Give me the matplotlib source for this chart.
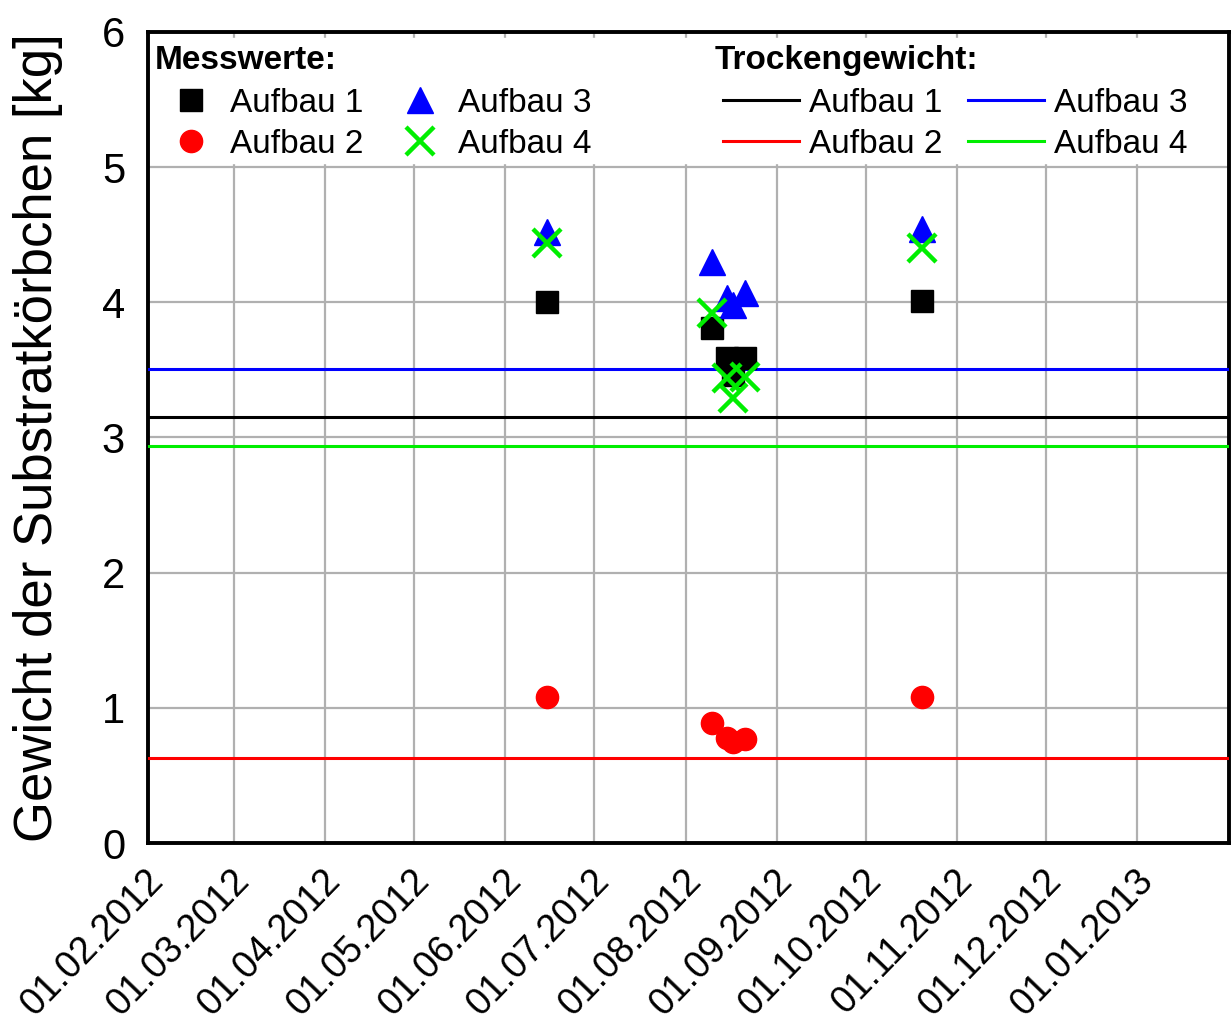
import numpy as np
import matplotlib.pyplot as plt
import matplotlib.dates as mdates
import matplotlib.transforms as mtransforms
from datetime import datetime

plt.rcParams['font.family'] = ['Liberation Sans', 'DejaVu Sans']

# Messtermine
dates = [datetime(2012, 6, 15), datetime(2012, 8, 10), datetime(2012, 8, 15),
         datetime(2012, 8, 17), datetime(2012, 8, 21), datetime(2012, 10, 20)]
aufbau1 = [4.00, 3.81, 3.59, 3.46, 3.59, 4.01]
aufbau2 = [1.08, 0.89, 0.78, 0.75, 0.77, 1.08]
aufbau3 = [4.52, 4.30, 4.03, 3.98, 4.07, 4.54]
aufbau4 = [4.44, 3.92, 3.44, 3.29, 3.45, 4.40]

# Trockengewicht
dry_weight = [3.15, 0.63, 3.505, 2.94]
labels = ['Aufbau 1', 'Aufbau 2', 'Aufbau 3', 'Aufbau 4']
colors = ['black', '#ff0000', '#0000ff', '#00ee00']

tick_dates = [datetime(2012, m, 1) for m in range(2, 13)] + [datetime(2013, 1, 1)]

fig = plt.figure(figsize=(12.31, 10.21), dpi=100)
ax = fig.add_axes([0.1202, 0.1743, 0.8782, 0.7944])

ax.grid(True, color='#b0b0b0', linewidth=1.6)
ax.set_axisbelow(True)

line_handles = []
for val, c, lab in zip(dry_weight, colors, labels):
    h, = ax.plot([datetime(2012, 2, 1), datetime(2013, 2, 1)], [val, val],
                 color=c, linewidth=2.2, label=lab, zorder=3)
    line_handles.append(h)

m1, = ax.plot(dates, aufbau1, 's', color='black', markersize=15.5, linestyle='none', zorder=4, label='Aufbau 1')
m2, = ax.plot(dates, aufbau2, 'o', color='#ff0000', markersize=16, linestyle='none', zorder=4, label='Aufbau 2')
m3, = ax.plot(dates, aufbau3, '^', color='#0000ff', markersize=19, linestyle='none', zorder=4, label='Aufbau 3')
m4, = ax.plot(dates, aufbau4, 'x', color='#00ee00', markersize=20, markeredgewidth=3.2,
              linestyle='none', zorder=4, label='Aufbau 4')

# weisser Hintergrund fuer die Legende
ax.axhspan(5.03, 5.955, xmin=0.002, xmax=0.998, color='white', zorder=2.5)

ax.set_xlim(datetime(2012, 2, 1), datetime(2013, 2, 1))
ax.set_ylim(0, 6)
ax.set_xticks(tick_dates)
ax.xaxis.set_major_formatter(mdates.DateFormatter('%d.%m.%Y'))
ax.set_yticks(range(0, 7))
ax.tick_params(axis='both', length=0)
ax.tick_params(axis='y', labelsize=30, pad=16.5)
ax.tick_params(axis='x', labelsize=27, pad=14)
shift = mtransforms.ScaledTranslation(-0.03, 0, fig.dpi_scale_trans)
for lbl in ax.get_xticklabels():
    lbl.set_rotation(46)
    lbl.set_ha('right')
    lbl.set_va('top')
    lbl.set_rotation_mode('anchor')
    lbl.set_transform(lbl.get_transform() + shift)

for s in ax.spines.values():
    s.set_linewidth(2.8)

ax.set_ylabel('Gewicht der Substratkörbchen [kg]', fontsize=38, labelpad=28)

ax.text(0.006, 0.965, 'Messwerte:', transform=ax.transAxes, fontsize=24,
        fontweight='bold', va='center', ha='left', zorder=6)
ax.text(0.524, 0.965, 'Trockengewicht:', transform=ax.transAxes, fontsize=24,
        fontweight='bold', va='center', ha='left', zorder=6)

leg1 = ax.legend(handles=[m1, m2, m3, m4], loc='center left', bbox_to_anchor=(0.0, 0.887),
                 ncol=2, frameon=False, fontsize=24,
                 handlelength=1.2, handletextpad=0.55, columnspacing=1.1,
                 labelspacing=0.3, borderpad=0.2)
ax.add_artist(leg1)
leg1.set_zorder(5)

leg2 = ax.legend(handles=line_handles, loc='center left', bbox_to_anchor=(0.51, 0.887),
                 ncol=2, frameon=False, fontsize=24,
                 handlelength=2.3, handletextpad=0.3, columnspacing=0.75,
                 labelspacing=0.3, borderpad=0.2)
leg2.set_zorder(5)

fig.savefig('out.png', dpi=100)
